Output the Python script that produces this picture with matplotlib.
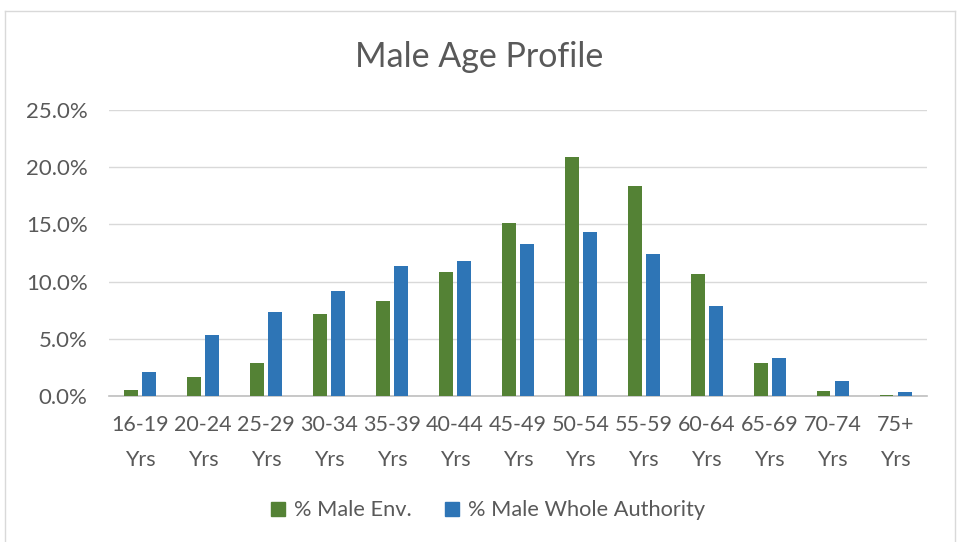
import numpy as np
import matplotlib
matplotlib.use("Agg")
from matplotlib import pyplot as plt
from matplotlib import ticker as mticker
from matplotlib.lines import Line2D

# Data (percent of males per age band)
age_bands = ["16-19\nYrs", "20-24\nYrs", "25-29\nYrs", "30-34\nYrs", "35-39\nYrs",
             "40-44\nYrs", "45-49\nYrs", "50-54\nYrs", "55-59\nYrs", "60-64\nYrs",
             "65-69\nYrs", "70-74\nYrs", "75+\nYrs"]
male_env = [0.5, 1.7, 2.9, 7.2, 8.3, 10.8, 15.1, 20.9, 18.4, 10.7, 2.9, 0.4, 0.1]
male_whole = [2.1, 5.3, 7.3, 9.2, 11.4, 11.8, 13.3, 14.3, 12.4, 7.9, 3.3, 1.3, 0.35]
series_names = ["% Male Env.", "% Male Whole Authority"]

GREEN = "#548235"
BLUE = "#2E75B6"
TEXT = "#595959"
GRID = "#D9D9D9"

plt.rcParams["font.family"] = ["Lato", "DejaVu Sans"]

fig = plt.figure(figsize=(9.58, 5.42), dpi=100)
ax = fig.add_axes([0.1133, 0.2694, 0.8545, 0.5276])

x = np.arange(len(age_bands))
w = 0.22
ax.bar(x - 0.145, male_env, width=w, color=GREEN, zorder=3)
ax.bar(x + 0.145, male_whole, width=w, color=BLUE, zorder=3)

ax.set_xlim(-0.5, len(age_bands) - 0.5)
ax.set_ylim(0, 25)
ax.set_yticks(np.arange(0, 25.1, 5))
ax.yaxis.set_major_formatter(mticker.FuncFormatter(lambda v, p: f"{v:.1f}%"))
ax.set_xticks(x)
ax.set_xticklabels(age_bands, linespacing=1.9)

ax.grid(axis="y", color=GRID, linewidth=1, zorder=0)
for s in ["top", "right", "left"]:
    ax.spines[s].set_visible(False)
ax.spines["bottom"].set_color("#BFBFBF")
ax.spines["bottom"].set_linewidth(1.2)
ax.tick_params(axis="both", length=0, labelsize=15.5, labelcolor=TEXT)
ax.tick_params(axis="y", labelsize=16, pad=15)
ax.tick_params(axis="x", pad=14)

fig.text(0.5, 0.895, "Male Age Profile", ha="center", va="center",
         fontsize=24.5, color=TEXT)

# square legend keys like the spreadsheet legend
handles = [Line2D([], [], linestyle="none", marker="s", markersize=9.5,
                  markerfacecolor=c, markeredgecolor=c) for c in (GREEN, BLUE)]
ax.legend(handles, series_names, loc="center", bbox_to_anchor=(0.464, -0.4),
          ncol=2, frameon=False, fontsize=15.7, labelcolor=TEXT,
          handlelength=0.6, handletextpad=0.45, columnspacing=1.55)

# light chart-area frame (left, top, right)
fx0, fx1, fy = 5 / 958, 955 / 958, 1 - 11 / 542
for xs, ys in [([fx0, fx0], [0, fy]), ([fx0, fx1], [fy, fy]), ([fx1, fx1], [fy, 0])]:
    fig.add_artist(Line2D(xs, ys, color=GRID, linewidth=1, transform=fig.transFigure))

fig.savefig("out.png", dpi=100)
